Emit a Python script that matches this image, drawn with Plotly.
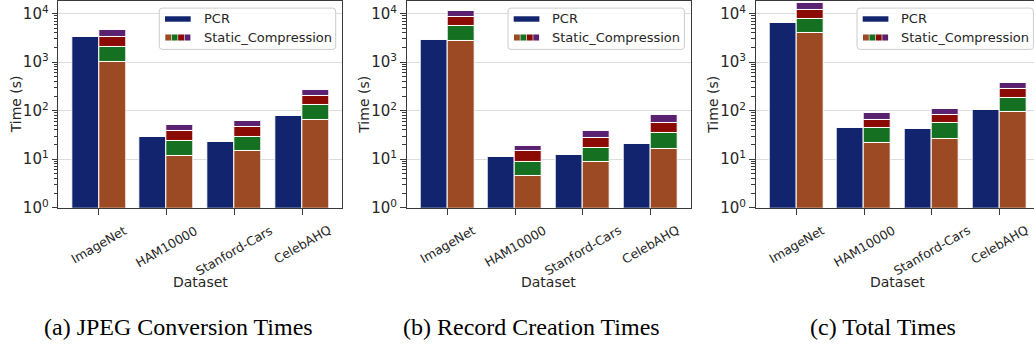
import numpy as np
import plotly.graph_objects as go

W, H = 1034, 347

datasets = ["ImageNet", "HAM10000", "Stanford-Cars", "CelebAHQ"]
captions = ["(a) JPEG Conversion Times", "(b) Record Creation Times", "(c) Total Times"]
ytick_vals = [1, 10, 100, 1000, 10000]
ytick_text = ["10<sup>0</sup>", "10<sup>1</sup>", "10<sup>2</sup>", "10<sup>3</sup>", "10<sup>4</sup>"]

# PCR times (s)
jpeg_pcr = [3340, 29.0, 22.3, 76.9]
record_pcr = [2860, 11.0, 12.4, 20.4]
total_pcr = [6290, 43.4, 41.4, 103]

# Static_Compression stacked stage times (s): one list per stacked segment
jpeg_static = [
    [1015, 11.9, 14.7, 65.9],
    [1085, 12.2, 14.3, 66.1],
    [1140, 13.7, 16.5, 68.0],
    [1310, 13.6, 15.5, 73.0],
]
record_static = [
    [2690, 4.55, 8.7, 16.4],
    [2870, 4.42, 8.7, 18.0],
    [3010, 5.53, 9.9, 22.1],
    [2930, 4.60, 10.5, 24.0],
]
total_static = [
    [3900, 22.0, 25.7, 92.6],
    [3910, 21.4, 29.0, 92.4],
    [4090, 22.5, 27.1, 97.0],
    [4500, 23.9, 28.2, 96.0],
]

PCR_COLOR = "#13246f"
SEG_COLORS = ["#9c4a23", "#167021", "#8b0a03", "#5a2170"]
TEXT = "#262626"
SPINE = "#3a3a3a"

panels = [
    dict(pcr=jpeg_pcr, segs=jpeg_static, left=58.3, right=342.3, cap_x=178),
    dict(pcr=record_pcr, segs=record_static, left=406.7, right=691.0, cap_x=531),
    dict(pcr=total_pcr, segs=total_static, left=755.7, right=1040.0, cap_x=883),
]

PX_PER_UNIT = 67.7
TOP_PX, BOT_PX = 1.0, 213.3


def fx(p):
    return p / W


def fy(p):
    return 1 - p / H


fig = go.Figure()
shapes = []
annotations = []

minor_vals = [m * 10 ** k for k in range(0, 5) for m in range(2, 10)]

for i, p in enumerate(panels):
    n = i + 1
    xa = "x" if n == 1 else f"x{n}"
    ya = "y" if n == 1 else f"y{n}"
    fig.add_trace(go.Bar(
        x=datasets, y=p["pcr"], offset=-0.4, width=0.4,
        marker=dict(color=PCR_COLOR, line=dict(color="white", width=1)),
        xaxis=xa, yaxis=ya, showlegend=False, name="PCR"))
    cum = np.zeros(len(datasets))
    for k, seg in enumerate(p["segs"]):
        seg = np.array(seg, dtype=float)
        fig.add_trace(go.Bar(
            x=datasets, y=seg, base=(cum.copy() if k > 0 else None),
            offset=0.0, width=0.4,
            marker=dict(color=SEG_COLORS[k], line=dict(color="white", width=1)),
            xaxis=xa, yaxis=ya, showlegend=False, name="Static_Compression"))
        cum = cum + seg

    right_vis = min(p["right"], W)
    xr = [-0.6, -0.6 + (right_vis - p["left"]) / PX_PER_UNIT]
    axis_x = dict(
        domain=[fx(p["left"]), fx(right_vis)], range=xr, type="category",
        showgrid=False, showline=True, linecolor=SPINE, linewidth=1.3,
        mirror=True, ticks="outside", ticklen=6, tickwidth=1.1, tickcolor=SPINE,
        showticklabels=False, anchor=ya, zeroline=False, fixedrange=True)
    axis_y = dict(
        domain=[fy(BOT_PX), fy(TOP_PX)], type="log", range=[0, 4.26],
        tickvals=ytick_vals, ticktext=ytick_text,
        tickfont=dict(family="DejaVu Sans", size=15, color=TEXT),
        showgrid=True, gridcolor="#dcdcdc", gridwidth=1.3,
        showline=True, linecolor=SPINE, linewidth=1.3,
        mirror=(n != 3), ticks="outside", ticklen=5.5, tickwidth=1.1, tickcolor=SPINE,
        minor=dict(tickvals=minor_vals, ticks="outside", ticklen=3.5, tickwidth=0.9,
                   tickcolor=SPINE, showgrid=False),
        anchor=xa, zeroline=False, fixedrange=True)
    fig.update_layout(**{("xaxis" if n == 1 else f"xaxis{n}"): axis_x,
                         ("yaxis" if n == 1 else f"yaxis{n}"): axis_y})

    # category labels (rotated, centered under ticks)
    for d in datasets:
        annotations.append(dict(
            x=d, xref=xa, y=fy(BOT_PX), yref="paper", text=d, showarrow=False,
            textangle=-30, xanchor="center", yanchor="top", yshift=-12,
            font=dict(family="DejaVu Sans", size=12.5, color=TEXT)))
    # axis titles
    annotations.append(dict(
        x=fx((p["left"] + p["right"]) / 2), y=fy(290), xref="paper", yref="paper",
        text="Dataset", showarrow=False, xanchor="center", yanchor="middle",
        font=dict(family="DejaVu Sans", size=14, color=TEXT)))
    annotations.append(dict(
        x=fx(p["left"] - 42.3), y=fy((TOP_PX + BOT_PX) / 2), xref="paper", yref="paper",
        text="Time (s)", showarrow=False, textangle=-90, xanchor="center", yanchor="middle",
        font=dict(family="DejaVu Sans", size=14, color=TEXT)))
    # caption
    annotations.append(dict(
        x=fx(p["cap_x"]), y=fy(336), xref="paper", yref="paper",
        text=captions[i], showarrow=False, xanchor="center", yanchor="middle",
        font=dict(family="Liberation Serif", size=24, color="black")))

    # legend box
    R = p["right"] - 6.6
    L = R - 176.4
    T, B = 8.3, 50.7
    r = 3.0
    rx, ry = r / W, r / H
    x0, x1, y0, y1 = fx(L), fx(R), fy(B), fy(T)
    path = (f"M{x0+rx},{y0} L{x1-rx},{y0} Q{x1},{y0} {x1},{y0+ry} "
            f"L{x1},{y1-ry} Q{x1},{y1} {x1-rx},{y1} L{x0+rx},{y1} Q{x0},{y1} {x0},{y1-ry} "
            f"L{x0},{y0+ry} Q{x0},{y0} {x0+rx},{y0} Z")
    shapes.append(dict(type="path", path=path, xref="paper", yref="paper",
                       fillcolor="rgba(255,255,255,0.8)", line=dict(color="#cccccc", width=1)))
    shapes.append(dict(type="rect", xref="paper", yref="paper",
                       x0=fx(L + 5.7), x1=fx(L + 31.4), y0=fy(22.3), y1=fy(16.7),
                       fillcolor=PCR_COLOR, line=dict(width=0)))
    tw = 25.7 / 4
    for k, c in enumerate(SEG_COLORS):
        shapes.append(dict(type="rect", xref="paper", yref="paper",
                           x0=fx(L + 5.7 + k * tw + 0.3), x1=fx(L + 5.7 + (k + 1) * tw - 0.3),
                           y0=fy(41.6), y1=fy(35.4),
                           fillcolor=c, line=dict(width=0)))
    annotations.append(dict(x=fx(L + 42.4), y=fy(19.5), xref="paper", yref="paper",
                            text="PCR", showarrow=False, xanchor="left", yanchor="middle",
                            font=dict(family="DejaVu Sans", size=13, color=TEXT)))
    annotations.append(dict(x=fx(L + 42.4), y=fy(38.5), xref="paper", yref="paper",
                            text="Static_Compression", showarrow=False, xanchor="left",
                            yanchor="middle",
                            font=dict(family="DejaVu Sans", size=13, color=TEXT)))

fig.update_layout(
    width=W, height=H, margin=dict(l=0, r=0, t=0, b=0),
    barmode="overlay", bargap=0,
    paper_bgcolor="white", plot_bgcolor="white",
    showlegend=False, shapes=shapes, annotations=annotations,
    font=dict(family="DejaVu Sans", color=TEXT),
)

fig.write_html("out.html")
